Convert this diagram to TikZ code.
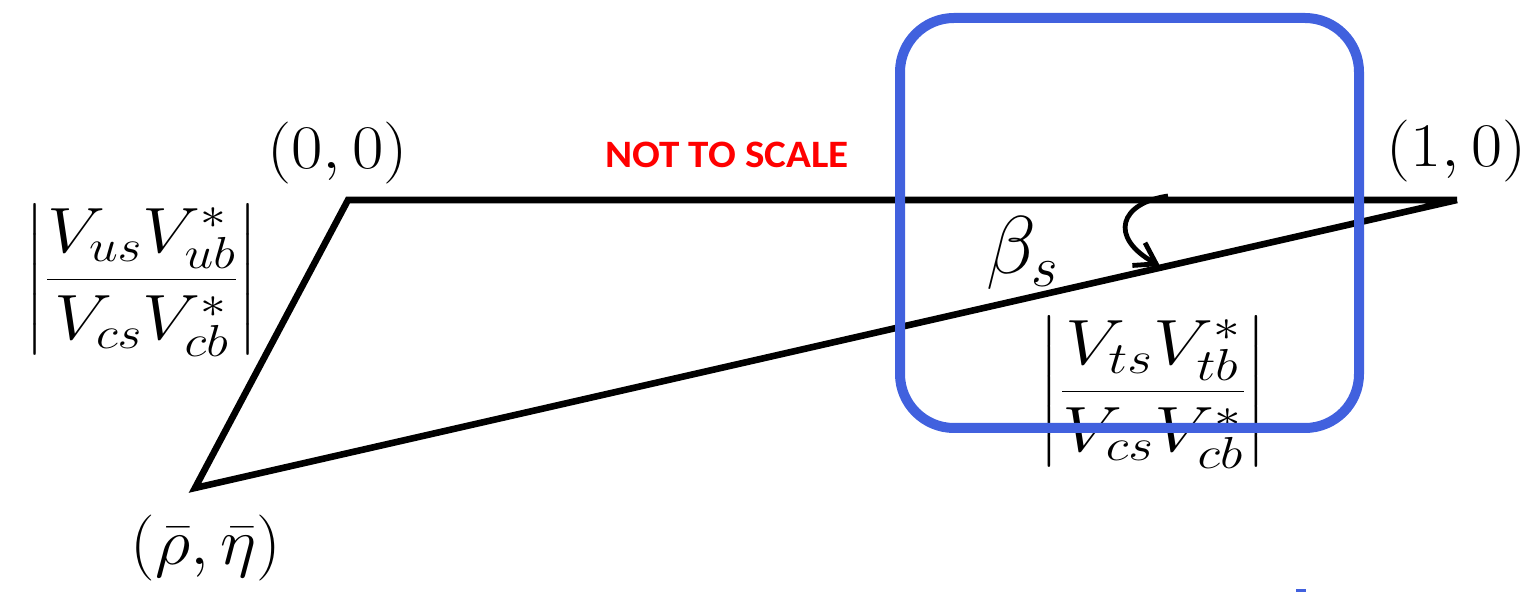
\RequirePackage{fix-cm}
\documentclass[tikz,border=0pt]{standalone}
\usepackage{amsmath}
\usepackage{graphicx}
\usepackage{fontspec}
\newfontfamily\carlito{Carlito}
\usetikzlibrary{arrows.meta}
\definecolor{boxblue}{RGB}{65,97,222}
\definecolor{warnred}{RGB}{255,0,0}
\tikzset{
  side/.style={line width=3.3pt, line join=miter},
  mathlbl/.style={inner sep=0pt, font=\fontsize{31}{37}\selectfont},
  anglearrow/.style={line width=2.4pt, -{Straight Barb[length=10pt,width=13pt]}},
  highlight/.style={draw=boxblue, line width=5pt, rounded corners=27pt},
}
\begin{document}
\begin{tikzpicture}[x=0.5pt,y=-0.5pt]
\useasboundingbox (0,0) rectangle (1527,592);
% vertices
\coordinate (A) at (348,200);
\coordinate (B) at (1457,200);
\coordinate (C) at (195,488);
\draw[side] (B) -- (A) -- (C) -- (B);
% labels
\node[mathlbl, anchor=base] (lA) at (337.5,169) {\scalebox{1.1}[1]{$(0,0)$}};
\node[mathlbl, anchor=base] (lB) at (1456.5,167) {\scalebox{1.09}[1]{$(1,0)$}};
\node[mathlbl, anchor=base, font=\fontsize{33}{40}\selectfont] (lC) at (206,565) {\scalebox{1.05}[1]{$(\bar\rho,\bar\eta)$}};
\node[mathlbl, anchor=base, font=\fontsize{32}{38}\selectfont] (fl) at (141.5,295.5) {\scalebox{1.15}[1]{$\displaystyle\left|\frac{V_{us}V_{ub}^*}{V_{cs}V_{cb}^*}\right|$}};
\node[mathlbl, anchor=base, font=\fontsize{32}{38}\selectfont] (fr) at (1153,407.5) {\scalebox{1.19}[1]{$\displaystyle\left|\frac{V_{ts}V_{tb}^*}{V_{cs}V_{cb}^*}\right|$}};
\node[inner sep=0pt, anchor=base west, font=\fontsize{41}{48}\selectfont] (beta) at (986,274) {$\beta_s$};
\node[inner sep=0pt, anchor=base, text=warnred, font=\carlito\bfseries\fontsize{19.4}{23}\selectfont] (nts) at (727,168) {\scalebox{1.06}[1]{NOT TO SCALE}};
% angle arrow
\coordinate (a0) at (1168,196);
\coordinate (a1) at (1160,266);
\draw[anglearrow] (a0) .. controls (1120,203) and (1108,237) .. (a1);
% highlight box
\draw[highlight] (900,18) rectangle (1359,428);
\fill[boxblue] (1296,589) rectangle (1306,592);
\end{tikzpicture}
\end{document}
